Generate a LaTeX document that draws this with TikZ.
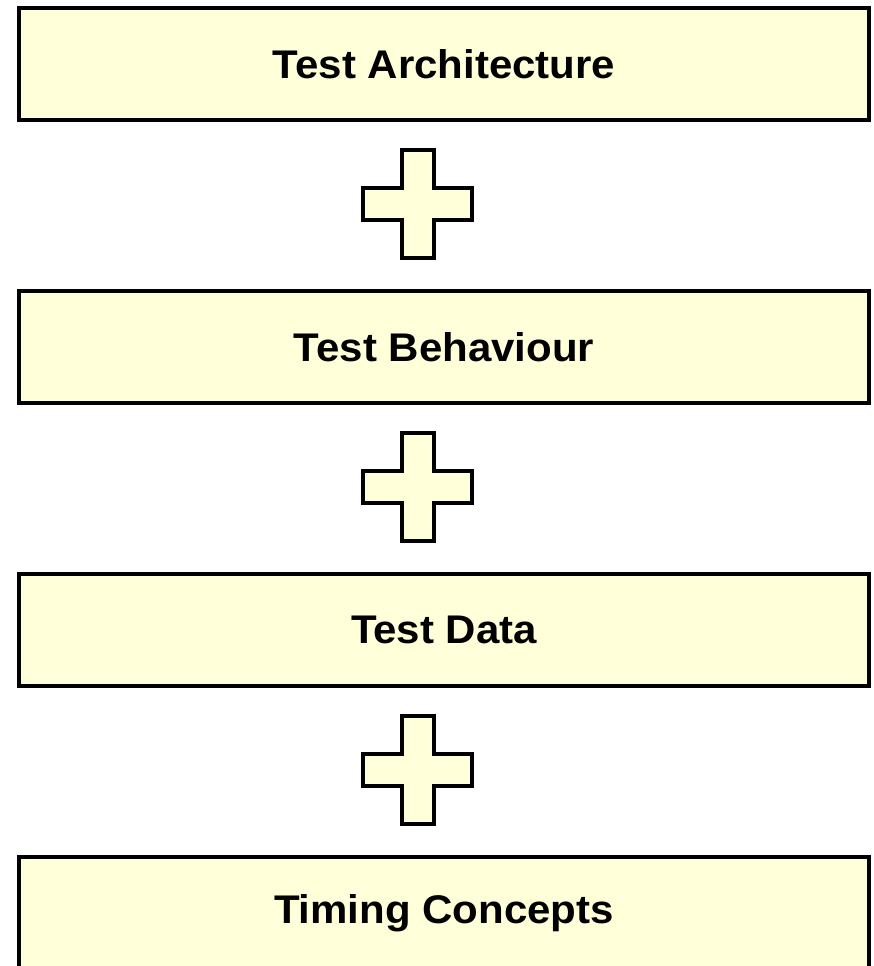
\documentclass[tikz,border=0pt]{standalone}
\usepackage{fontspec}
\setmainfont{Liberation Sans}
\newfontfamily\labelfont[FakeStretch=1.05]{Liberation Sans}
\definecolor{paleyellow}{RGB}{255,255,217}
\begin{document}
\begin{tikzpicture}[x=1pt,y=-1pt,
  layer/.style={draw=black, line width=4pt, fill=paleyellow,
    minimum width=850pt, minimum height=112pt, inner sep=0pt,
    font=\labelfont\bfseries\fontsize{40}{42}\selectfont},
  plus/.style={draw=black, line width=3.5pt, fill=paleyellow, line join=miter}]
\useasboundingbox (0,0) rectangle (874,966);
\clip (0,0) rectangle (874,966);
% stacked layers
\node[layer] (arch) at (444,64)  {Test Architecture};
\node[layer] (beh)  at (444,347) {Test Behaviour};
\node[layer] (data) at (444,630) {Test Data};
\node[layer] (time) at (444,913) {Timing Concepts};
% plus signs between layers
\foreach \c in {204,487,770} {
  \draw[plus] (402,\c-54) -- (434,\c-54) -- (434,\c-16) -- (472,\c-16)
    -- (472,\c+16) -- (434,\c+16) -- (434,\c+54) -- (402,\c+54)
    -- (402,\c+16) -- (363,\c+16) -- (363,\c-16) -- (402,\c-16) -- cycle;
}
\end{tikzpicture}
\end{document}
